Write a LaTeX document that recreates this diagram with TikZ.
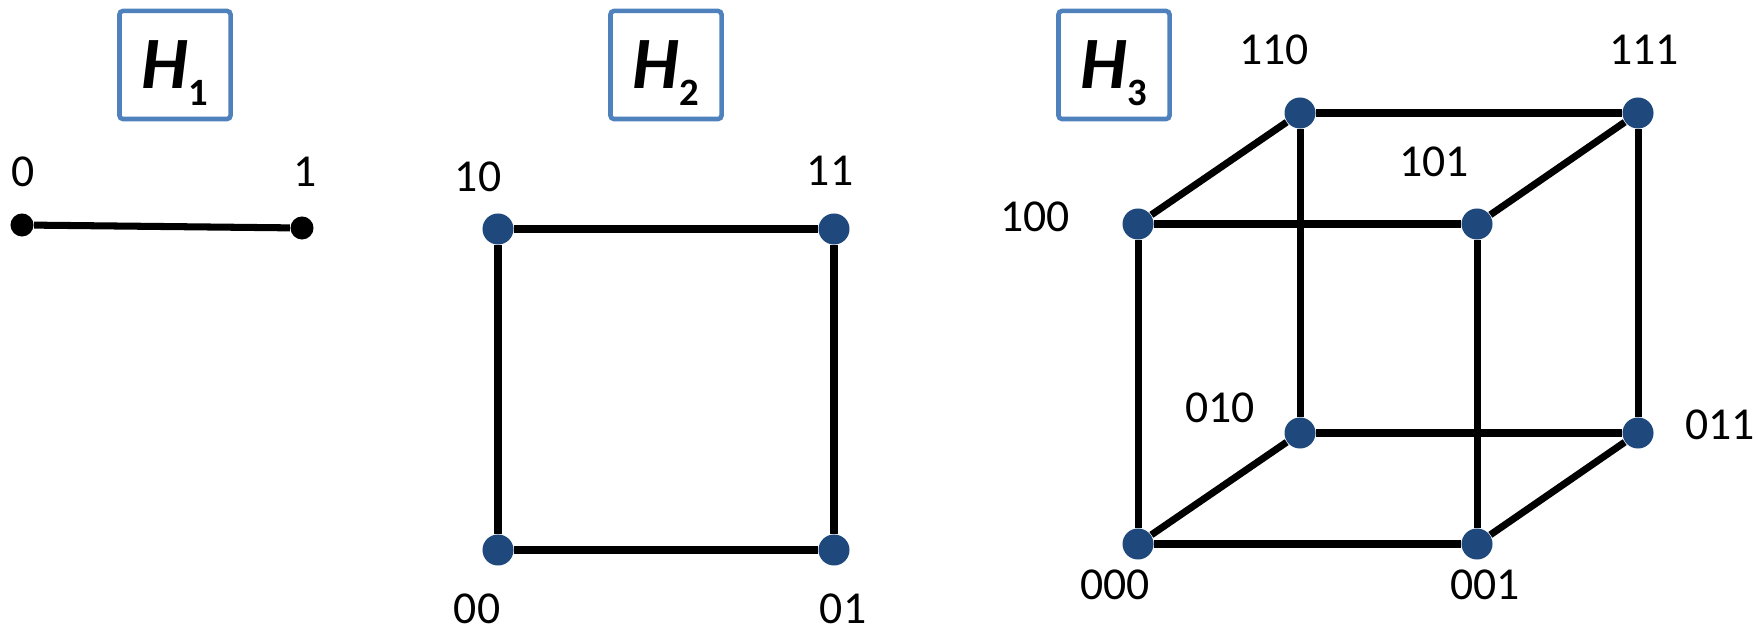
\documentclass[tikz,border=0pt]{standalone}
\usepackage{fontspec}
\setmainfont{Carlito}
\usetikzlibrary{positioning}
\definecolor{boxblue}{RGB}{79,129,189}
\definecolor{vertblue}{RGB}{31,73,125}

\begin{document}
\begin{tikzpicture}[
    x=0.01cm, y=-0.01cm,
    hbox/.style={draw=boxblue, line width=1.3pt, rounded corners=1pt,
                 minimum width=1.11cm, minimum height=1.08cm, inner sep=0pt,
                 font=\fontsize{21}{25}\selectfont\bfseries\itshape},
    vert/.style={circle, fill=vertblue, minimum size=3.1mm, inner sep=0pt},
    smallvert/.style={circle, fill=black, minimum size=2.3mm, inner sep=0pt},
    lbl/.style={inner sep=0pt, font=\fontsize{13}{15}\selectfont},
    link/.style={line width=2pt}]
  \useasboundingbox (0,0) rectangle (1758,634);
  % titles
  \node[hbox] (h1) at (175,65) {H\smash{\raisebox{-0.17cm}{\fontsize{11}{12}\selectfont\upshape 1}}};
  \node[hbox] (h2) at (666,65) {H\smash{\raisebox{-0.17cm}{\fontsize{11}{12}\selectfont\upshape 2}}};
  \node[hbox] (h3) at (1114,65) {H\smash{\raisebox{-0.17cm}{\fontsize{11}{12}\selectfont\upshape 3}}};

  % H1
  \node[smallvert] (v0) at (22,225) {};
  \node[smallvert] (v1) at (302,228) {};
  \node[lbl] (l0) at (23,172) {0};
  \node[lbl] (l1) at (305,172) {1};
  \draw[link] (v0) -- (v1);

  % H2
  \node[vert] (s10) at (498,229) {};
  \node[vert] (s11) at (834,229) {};
  \node[vert] (s00) at (498,550) {};
  \node[vert] (s01) at (834,550) {};
  \node[lbl] (l10) at (478,177) {10};
  \node[lbl] (l11) at (830,171) {11};
  \node[lbl] (l00) at (477,609) {00};
  \node[lbl] (l01) at (843,609) {01};
  \draw[link] (s10) -- (s11);
  \draw[link] (s10) -- (s00);
  \draw[link] (s11) -- (s01);
  \draw[link] (s00) -- (s01);

  % H3
  \node[vert] (c110) at (1300,113) {};
  \node[vert] (c111) at (1638,113) {};
  \node[vert] (c100) at (1138,224) {};
  \node[vert] (c101) at (1477,224) {};
  \node[vert] (c010) at (1300,433) {};
  \node[vert] (c011) at (1638,433) {};
  \node[vert] (c000) at (1138,544) {};
  \node[vert] (c001) at (1477,544) {};
  \node[lbl] (l110) at (1274,50) {110};
  \node[lbl] (l111) at (1644,50) {111};
  \node[lbl] (l101) at (1434,162) {101};
  \node[lbl] (l100) at (1035,217) {100};
  \node[lbl] (l010) at (1220,408) {010};
  \node[lbl] (l011) at (1720,425) {011};
  \node[lbl] (l000) at (1115,585) {000};
  \node[lbl] (l001) at (1485,585) {001};
  \draw[link] (c110) -- (c111);
  \draw[link] (c100) -- (c101);
  \draw[link] (c010) -- (c011);
  \draw[link] (c000) -- (c001);
  \draw[link] (c100) -- (c110);
  \draw[link] (c101) -- (c111);
  \draw[link] (c000) -- (c010);
  \draw[link] (c001) -- (c011);
  \draw[link] (c100) -- (c000);
  \draw[link] (c110) -- (c010);
  \draw[link] (c101) -- (c001);
  \draw[link] (c111) -- (c011);
\end{tikzpicture}
\end{document}
